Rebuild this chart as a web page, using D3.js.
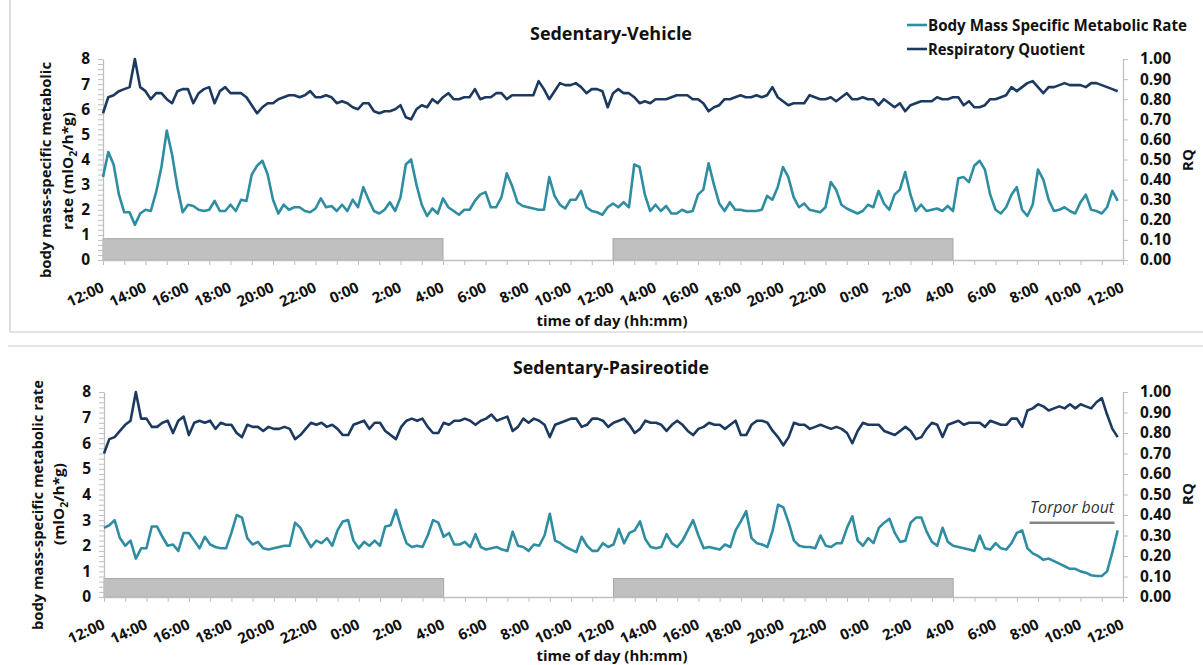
<!DOCTYPE html>
<html>
<head>
<meta charset="utf-8">
<script src="https://cdn.jsdelivr.net/npm/d3@7"></script>
<style>
  html, body { margin: 0; padding: 0; background: #fff; }
  svg { display: block; font-family: "Open Sans", Lato, sans-serif; }
</style>
</head>
<body>
<svg id="chart" width="1203" height="665"></svg>
<script>
// Samples are 15 minutes apart, starting at 12:00 on day 1 (hours since start).
const SAMPLE_STEP_H = 0.25;

// Sedentary-Vehicle: body mass-specific metabolic rate (mlO2/h*g)
const vehicleMR = [
  3.3,4.3,3.8,2.6,1.9,1.9,1.4,1.85,2.0,1.95,
  2.7,3.7,5.15,4.2,2.9,1.9,2.2,2.15,2.0,1.95,
  2.0,2.35,1.95,1.95,2.2,1.95,2.4,2.35,3.4,3.75,
  3.95,3.4,2.4,1.85,2.2,2.0,2.1,2.1,1.95,1.9,
  2.05,2.45,2.1,2.15,1.95,2.2,1.95,2.4,2.1,2.9,
  2.4,1.95,1.85,2.0,2.3,1.95,2.5,3.8,4.0,3.0,
  2.2,1.75,2.05,1.85,2.45,
  2.1,1.95,1.8,2.0,2.0,2.35,2.6,2.7,2.1,2.1,
  2.5,3.45,2.95,2.3,2.15,2.1,2.05,2.0,2.0,3.3,
  2.55,2.2,2.05,2.4,2.4,2.75,2.1,1.95,1.9,1.8,
  2.1,2.25,2.1,2.3,2.1,3.8,3.7,2.6,1.95,2.2,
  1.95,2.15,1.85,1.85,2.0,1.9,1.95,2.6,2.8,3.85,
  3.0,2.25,1.95,2.3,2.0,2.0,1.95,1.95,1.95,2.0,
  2.55,2.4,2.9,3.7,
  3.3,2.5,2.1,2.25,2.0,1.95,1.9,2.1,3.1,2.8,
  2.2,2.05,1.95,1.85,1.95,2.2,2.1,2.75,2.25,2.0,
  2.6,2.8,3.5,2.6,1.95,2.2,1.95,2.0,2.05,1.95,
  2.15,1.95,3.25,3.3,3.1,3.75,3.95,3.6,2.6,2.0,
  1.85,2.1,2.6,2.9,2.0,1.75,2.2,3.6,3.2,2.4,
  1.95,2.0,2.1,1.95,1.85,2.3,2.6,2.0,1.95,1.85,
  2.1,2.75,2.35
];

// Sedentary-Vehicle: respiratory quotient
const vehicleRQ = [
  0.73,0.81,0.82,0.84,0.85,0.86,1.00,0.86,0.84,0.80,
  0.83,0.83,0.80,0.78,0.84,0.85,0.85,0.78,0.83,0.85,
  0.86,0.78,0.84,0.86,0.83,0.83,0.83,0.81,0.77,0.73,
  0.76,0.78,0.78,0.80,0.81,0.82,0.82,0.81,0.82,0.84,
  0.81,0.81,0.82,0.81,0.78,0.79,0.78,0.76,0.75,0.78,
  0.78,0.74,0.73,0.74,0.74,0.75,0.77,0.71,0.70,0.75,
  0.77,0.76,0.80,0.78,0.81,
  0.83,0.80,0.80,0.81,0.81,0.85,0.80,0.81,0.81,0.83,
  0.83,0.80,0.82,0.82,0.82,0.82,0.82,0.89,0.85,0.80,
  0.84,0.88,0.87,0.87,0.88,0.86,0.83,0.85,0.85,0.84,
  0.76,0.83,0.85,0.83,0.83,0.81,0.78,0.79,0.78,0.80,
  0.80,0.80,0.81,0.82,0.82,0.82,0.80,0.80,0.78,0.74,
  0.76,0.77,0.80,0.80,0.81,0.82,0.81,0.81,0.82,0.81,
  0.82,0.86,0.81,0.79,
  0.77,0.78,0.78,0.78,0.82,0.81,0.80,0.80,0.81,0.79,
  0.81,0.83,0.80,0.80,0.81,0.80,0.80,0.77,0.80,0.78,
  0.76,0.78,0.74,0.77,0.78,0.79,0.79,0.79,0.81,0.80,
  0.80,0.81,0.81,0.77,0.79,0.76,0.76,0.77,0.80,0.80,
  0.81,0.82,0.86,0.84,0.86,0.88,0.89,0.86,0.83,0.86,
  0.86,0.87,0.88,0.87,0.87,0.87,0.86,0.88,0.88,0.87,
  0.86,0.85,0.84
];

// Sedentary-Pasireotide: body mass-specific metabolic rate (mlO2/h*g)
const pasireotideMR = [
  2.7,2.8,3.0,2.3,2.0,2.2,1.5,1.9,1.9,2.75,
  2.75,2.35,2.0,2.05,1.8,2.5,2.5,2.2,1.9,2.35,
  2.05,1.95,1.9,1.9,2.5,3.2,3.1,2.3,2.05,2.15,
  1.9,1.85,1.9,1.95,2.0,2.0,2.9,2.7,2.3,1.95,
  2.2,2.1,2.3,2.0,2.6,2.95,3.0,2.2,1.9,2.15,
  2.0,2.2,2.0,2.75,2.8,3.4,2.7,2.1,1.95,2.0,
  1.95,2.4,3.0,2.9,2.35,
  2.5,2.05,2.05,2.15,1.95,2.45,1.95,1.85,1.9,1.95,
  1.85,1.8,2.55,2.0,1.95,1.8,2.05,2.0,2.4,3.25,
  2.2,2.1,1.95,1.85,1.75,2.35,2.0,1.8,1.8,2.1,
  1.95,2.05,2.65,2.1,2.5,2.6,2.95,2.25,1.95,1.9,
  1.95,2.45,2.1,1.95,2.2,2.6,3.0,2.4,1.9,1.95,
  1.9,1.85,2.05,1.95,2.6,2.95,3.35,2.3,2.1,2.05,
  1.95,2.6,3.6,3.5,
  2.9,2.2,2.0,1.95,1.95,1.9,2.4,2.0,1.95,2.1,
  2.1,2.7,3.15,2.2,2.0,2.3,2.1,2.7,2.9,3.05,
  2.5,2.15,2.2,2.9,3.1,3.1,2.55,2.15,2.0,2.7,
  2.15,2.0,1.95,1.9,1.85,1.8,2.4,1.9,1.85,2.1,
  1.9,1.85,2.1,2.5,2.6,1.9,1.7,1.6,1.45,1.5,
  1.4,1.3,1.2,1.1,1.1,1.0,0.95,0.85,0.82,0.82,
  1.0,1.75,2.6
];

// Sedentary-Pasireotide: respiratory quotient
const pasireotideRQ = [
  0.70,0.77,0.78,0.81,0.84,0.86,1.00,0.87,0.87,0.83,
  0.83,0.85,0.86,0.80,0.86,0.88,0.79,0.85,0.86,0.85,
  0.86,0.82,0.85,0.84,0.84,0.80,0.78,0.84,0.83,0.83,
  0.81,0.83,0.82,0.82,0.83,0.82,0.77,0.79,0.82,0.85,
  0.84,0.85,0.83,0.84,0.82,0.79,0.79,0.84,0.85,0.86,
  0.82,0.85,0.85,0.81,0.79,0.77,0.83,0.86,0.87,0.86,
  0.87,0.83,0.80,0.80,0.85,
  0.84,0.86,0.86,0.87,0.86,0.84,0.86,0.87,0.89,0.86,
  0.87,0.88,0.81,0.83,0.87,0.85,0.87,0.86,0.84,0.78,
  0.84,0.85,0.86,0.87,0.87,0.83,0.84,0.87,0.87,0.86,
  0.83,0.85,0.86,0.87,0.84,0.80,0.82,0.86,0.85,0.85,
  0.84,0.81,0.84,0.86,0.84,0.81,0.79,0.82,0.83,0.85,
  0.84,0.84,0.82,0.84,0.86,0.79,0.79,0.84,0.86,0.86,
  0.85,0.81,0.78,0.74,
  0.78,0.85,0.84,0.84,0.82,0.83,0.84,0.83,0.82,0.83,
  0.82,0.80,0.75,0.81,0.85,0.84,0.84,0.84,0.81,0.80,
  0.79,0.81,0.83,0.81,0.77,0.78,0.82,0.85,0.84,0.78,
  0.84,0.85,0.86,0.84,0.85,0.85,0.85,0.83,0.86,0.85,
  0.84,0.84,0.87,0.87,0.83,0.91,0.92,0.94,0.93,0.91,
  0.92,0.93,0.92,0.94,0.92,0.94,0.93,0.92,0.95,0.97,
  0.89,0.82,0.78
];

// Axis labels every two hours across the 48 h recording
const timeTickLabels = [
  "12:00","14:00","16:00","18:00","20:00","22:00","0:00","2:00","4:00",
  "6:00","8:00","10:00","12:00","14:00","16:00","18:00","20:00","22:00",
  "0:00","2:00","4:00","6:00","8:00","10:00","12:00"
];

// Dark phases (hours since start), drawn as grey bars along the baseline
const darkPhases = [[0, 16], [24, 40]];
// Bar heights in metabolic-rate units for each panel
const darkBarLevels = [0.85, 0.72];

// Torpor bout marker in the Pasireotide panel: [start h, end h], level
const torporBout = [43.6, 47.6];
const torporLevel = 2.9;

const COL_MR = "#2f8da1";
const COL_RQ = "#1c3a60";
const COL_AXIS = "#bfbfbf";
const COL_TEXT = "#111";
const FONT = "'Open Sans', Lato, sans-serif";
const FS = 15;

const svg = d3.select("#chart");

// Panel frames
svg.append("path")
  .attr("d", "M10,-2 V332 H1210")
  .attr("fill", "none").attr("stroke", "#c9c9c9").attr("stroke-width", 1.2);
svg.append("line")
  .attr("x1", 8).attr("x2", 1210).attr("y1", 346).attr("y2", 346)
  .attr("stroke", "#c9c9c9").attr("stroke-width", 1.2);

const panels = [
  {
    title: "Sedentary-Vehicle", titleY: 40, titleW: 162,
    mr: vehicleMR, rq: vehicleRQ, barLevel: darkBarLevels[0],
    left: 103, right: 1123, top: 59, bottom: 260,
    xTitleY: 326,
    yTitle: [
      { text: "body mass-specific metabolic", x: 51, y: 170, w: 216 },
      { text: "rate (mlO₂/h*g)", x: 73, y: 171, w: 118 }
    ],
    rqTitleY: 160
  },
  {
    title: "Sedentary-Pasireotide", titleY: 374, titleW: 196,
    mr: pasireotideMR, rq: pasireotideRQ, barLevel: darkBarLevels[1],
    left: 104, right: 1123, top: 392, bottom: 597,
    xTitleY: 661,
    yTitle: [
      { text: "body mass-specific metabolic rate", x: 43, y: 505, w: 250 },
      { text: "(mlO₂/h*g)", x: 64, y: 504, w: 82 }
    ],
    rqTitleY: 494,
    torpor: true
  }
];

// Writes text, rendering "₂" as a lowered small "2"
function richText(sel, str, size) {
  const parts = str.split("₂");
  parts.forEach((p, i) => {
    if (i > 0) {
      sel.append("tspan").attr("dy", 4).attr("font-size", size * 0.68).text("2");
      sel.append("tspan").attr("dy", -4).text(p);
    } else {
      sel.append("tspan").text(p);
    }
  });
}

panels.forEach(p => {
  const g = svg.append("g");
  const x = d3.scaleLinear().domain([0, 48]).range([p.left, p.right]);
  const yL = d3.scaleLinear().domain([0, 8]).range([p.bottom, p.top]);
  const yR = d3.scaleLinear().domain([0, 1]).range([p.bottom, p.top]);

  // Dark-phase bars
  g.selectAll("rect.dark").data(darkPhases).join("rect")
    .attr("class", "dark")
    .attr("x", d => x(d[0]))
    .attr("width", d => x(d[1]) - x(d[0]))
    .attr("y", yL(p.barLevel))
    .attr("height", yL(0) - yL(p.barLevel))
    .attr("fill", "#c0c0c0").attr("stroke", "#a8a8a8").attr("stroke-width", 1);

  // Left axis: minor ticks every 0.2, labels on integers
  const leftAxis = d3.axisLeft(yL)
    .tickValues(d3.range(0, 40.5, 1).map(v => v / 5))
    .tickFormat(v => Math.abs(v - Math.round(v)) < 1e-6 ? d3.format("d")(Math.round(v)) : "")
    .tickSize(5).tickSizeOuter(0).tickPadding(8);
  const la = g.append("g").attr("transform", `translate(${p.left},0)`).call(leftAxis);

  // Right axis: RQ
  const rightAxis = d3.axisRight(yR)
    .tickValues(d3.range(0, 10.5, 1).map(v => v / 10))
    .tickFormat(d3.format(".2f"))
    .tickSize(5).tickSizeOuter(0).tickPadding(12);
  const ra = g.append("g").attr("transform", `translate(${p.right},0)`).call(rightAxis);

  // Bottom axis: hourly ticks, labels drawn separately (rotated)
  const bottomAxis = d3.axisBottom(x)
    .tickValues(d3.range(0, 49, 1))
    .tickFormat("")
    .tickSize(5).tickSizeOuter(0);
  const ba = g.append("g").attr("transform", `translate(0,${p.bottom})`).call(bottomAxis);

  [la, ra, ba].forEach(a => {
    a.select(".domain").attr("stroke", COL_AXIS).attr("stroke-width", 1.3);
    a.selectAll(".tick line").attr("stroke", COL_AXIS).attr("stroke-width", 1);
    a.selectAll("text").attr("fill", COL_TEXT)
      .attr("font-family", FONT)
      .attr("font-size", 15.5).attr("font-weight", "bold");
  });

  // Rotated time labels
  g.selectAll("text.tl").data(timeTickLabels).join("text")
    .attr("class", "tl")
    .attr("transform", (d, i) => `translate(${x(i * 2) + 2},${p.bottom + 31}) rotate(-25)`)
    .attr("text-anchor", "end")
    .attr("font-size", 15).attr("font-weight", "bold").attr("fill", COL_TEXT)
    .text(d => d);

  // Series
  const lineMR = d3.line().x((d, i) => x(i * SAMPLE_STEP_H)).y(d => yL(d));
  const lineRQ = d3.line().x((d, i) => x(i * SAMPLE_STEP_H)).y(d => yR(d));

  g.append("path").datum(p.mr)
    .attr("d", lineMR).attr("fill", "none")
    .attr("stroke", COL_MR).attr("stroke-width", 2.6).attr("stroke-linejoin", "round");
  g.append("path").datum(p.rq)
    .attr("d", lineRQ).attr("fill", "none")
    .attr("stroke", COL_RQ).attr("stroke-width", 2.6).attr("stroke-linejoin", "round");

  // Titles
  g.append("text")
    .attr("x", 611).attr("y", p.titleY)
    .attr("text-anchor", "middle")
    .attr("font-size", 17).attr("font-weight", "bold").attr("fill", COL_TEXT)
    .attr("textLength", p.titleW).attr("lengthAdjust", "spacingAndGlyphs")
    .text(p.title);

  g.append("text")
    .attr("x", 612).attr("y", p.xTitleY)
    .attr("text-anchor", "middle")
    .attr("font-size", FS).attr("font-weight", "bold").attr("fill", COL_TEXT)
    .attr("textLength", 151).attr("lengthAdjust", "spacingAndGlyphs")
    .text("time of day (hh:mm)");

  p.yTitle.forEach(t => {
    const tx = g.append("text")
      .attr("transform", `translate(${t.x},${t.y}) rotate(-90)`)
      .attr("text-anchor", "middle")
      .attr("font-size", FS).attr("font-weight", "bold").attr("fill", COL_TEXT)
      .attr("textLength", t.w).attr("lengthAdjust", "spacingAndGlyphs");
    richText(tx, t.text, FS);
  });

  g.append("text")
    .attr("transform", `translate(1193,${p.rqTitleY}) rotate(-90)`)
    .attr("text-anchor", "middle")
    .attr("font-size", FS).attr("font-weight", "bold").attr("fill", COL_TEXT)
    .text("RQ");

  if (p.torpor) {
    g.append("line")
      .attr("x1", x(torporBout[0])).attr("x2", x(torporBout[1]))
      .attr("y1", yL(torporLevel)).attr("y2", yL(torporLevel))
      .attr("stroke", "#858585").attr("stroke-width", 2.5);
    g.append("text")
      .attr("x", (x(torporBout[0]) + x(torporBout[1])) / 2)
      .attr("y", yL(torporLevel) - 10)
      .attr("text-anchor", "middle")
      .attr("font-size", 16).attr("font-style", "italic").attr("fill", "#333")
      .attr("textLength", 84).attr("lengthAdjust", "spacingAndGlyphs")
      .text("Torpor bout");
  }
});

// Legend
const legendItems = [
  { label: "Body Mass Specific Metabolic Rate", color: COL_MR, y: 25, w: 259 },
  { label: "Respiratory Quotient", color: COL_RQ, y: 49, w: 157 }
];
const lg = svg.append("g");
lg.selectAll("line").data(legendItems).join("line")
  .attr("x1", 907).attr("x2", 927)
  .attr("y1", d => d.y).attr("y2", d => d.y)
  .attr("stroke", d => d.color).attr("stroke-width", 2.6);
lg.selectAll("text").data(legendItems).join("text")
  .attr("x", 928).attr("y", d => d.y + 6)
  .attr("font-size", 16).attr("font-weight", "bold").attr("fill", COL_TEXT)
  .attr("textLength", d => d.w).attr("lengthAdjust", "spacingAndGlyphs")
  .text(d => d.label);
</script>
</body>
</html>
